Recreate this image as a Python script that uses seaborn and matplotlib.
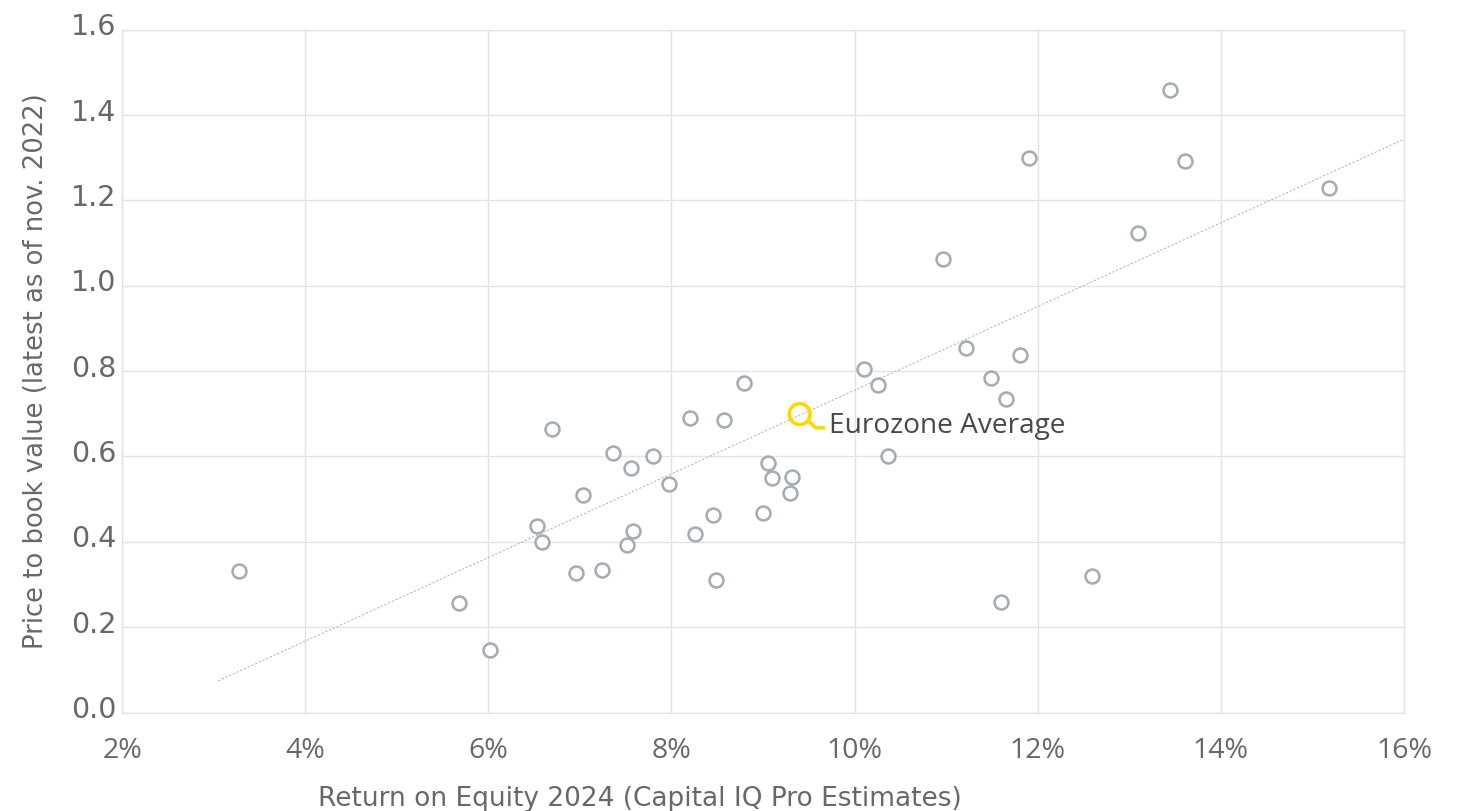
import matplotlib
matplotlib.use("Agg")
import matplotlib.pyplot as plt
from matplotlib.transforms import ScaledTranslation
import seaborn as sns
import pandas as pd

# --- Data ---
roe = [3.28, 5.68, 6.02, 6.53, 6.59, 6.70, 6.96, 7.03, 7.24, 7.36, 7.51, 7.56, 7.58, 7.80,
       7.97, 8.20, 8.26, 8.45, 8.49, 8.57, 8.79, 9.00, 9.05, 9.10, 9.30, 9.32, 10.10, 10.26,
       10.37, 10.97, 11.22, 11.49, 11.60, 11.65, 11.81, 11.90, 12.59, 13.10, 13.44, 13.61, 15.18]
pbv = [0.331, 0.256, 0.146, 0.437, 0.399, 0.664, 0.327, 0.509, 0.334, 0.608, 0.392, 0.573,
       0.425, 0.601, 0.535, 0.690, 0.418, 0.463, 0.310, 0.685, 0.772, 0.467, 0.584, 0.549,
       0.514, 0.552, 0.804, 0.767, 0.601, 1.062, 0.854, 0.783, 0.259, 0.734, 0.837, 1.299,
       0.320, 1.123, 1.458, 1.291, 1.228]
trend_x = [3.05, 16.0]
trend_y = [0.074, 1.343]
avg_x = [9.40]
avg_y = [0.699]
avg_label = "Eurozone Average"
x_ticks = [2, 4, 6, 8, 10, 12, 14, 16]
y_ticks = [0.0, 0.2, 0.4, 0.6, 0.8, 1.0, 1.2, 1.4, 1.6]

GRID = "#E4E4E6"
TEXT = "#68686A"
RING = "#A6ACB3"
YELLOW = "#FFD800"

sns.set_theme(style="white")
plt.rcParams["font.family"] = ["DejaVu Sans"]
W, H = 1465, 811
fig = plt.figure(figsize=(W / 100, H / 100), dpi=100)
ax = fig.add_axes([122 / W, 1 - 712.5 / H, (1404 - 122) / W, (712.5 - 29.5) / H])

# Trend line, then the banks, then the average marker
sns.lineplot(x=trend_x, y=trend_y, ax=ax, color="#ABABAD", lw=0.65,
             linestyle=(0, (2.5, 2)), zorder=2)
df = pd.DataFrame({"roe": roe, "pbv": pbv})
sns.scatterplot(data=df, x="roe", y="pbv", ax=ax, s=100, color="white",
                edgecolor=RING, linewidth=1.85, zorder=3, clip_on=False)
sns.scatterplot(x=avg_x, y=avg_y, ax=ax, s=225, color="none",
                edgecolor=YELLOW, linewidth=2.6, zorder=4)
# Leader from the ring to the label
ax.plot([9.505, 9.575, 9.675], [0.681, 0.667, 0.667], color=YELLOW, lw=2.6,
        solid_joinstyle="round", solid_capstyle="butt", zorder=4)
ax.text(9.72, 0.672, avg_label, color="#4B4846", fontsize=20.2, family="Open Sans",
        va="center", ha="left", zorder=5)

ax.set_xlim(2, 16)
ax.set_ylim(0, 1.6)
ax.set_xticks(x_ticks)
ax.set_xticklabels([f"{t}%" for t in x_ticks], fontsize=20.5, color=TEXT, family="Open Sans")
ax.set_yticks(y_ticks)
ax.set_yticklabels([f"{t:.1f}" for t in y_ticks], fontsize=20.5, color=TEXT)
ax.tick_params(axis="x", length=0, pad=18)
ax.tick_params(axis="y", length=0, pad=4)

# y labels sit slightly above their gridlines
shift = ScaledTranslation(0, 3.8 / 72, fig.dpi_scale_trans)
for lab in ax.get_yticklabels():
    lab.set_transform(lab.get_transform() + shift)

ax.grid(True, color=GRID, lw=1.0)
ax.set_axisbelow(True)
for side in ax.spines.values():
    side.set_color(GRID)
    side.set_linewidth(1.0)

ax.set_xlabel("Return on Equity 2024 (Capital IQ Pro Estimates)", fontsize=19, color=TEXT)
ax.set_ylabel("Price to book value (latest as of nov. 2022)", fontsize=18.6, color=TEXT)
ax.xaxis.set_label_coords((640 - 122) / (1404 - 122), -(799 - 712.5) / (712.5 - 29.5))
ax.xaxis.label.set_va("center")
ax.yaxis.set_label_coords(-(122 - 36) / (1404 - 122), 0.5)
ax.yaxis.label.set_va("center")

fig.savefig("out.png", dpi=100)
